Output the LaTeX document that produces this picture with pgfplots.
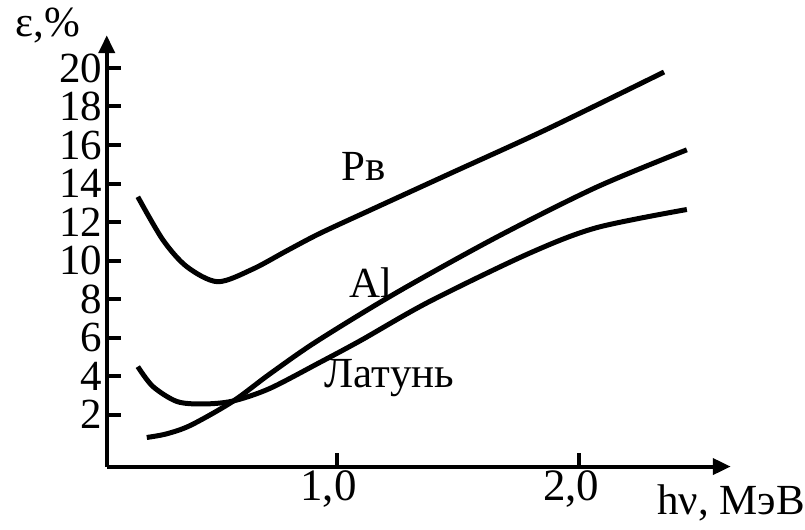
\documentclass[border=0pt]{standalone}
\usepackage{fontspec}
\setmainfont{Liberation Serif}
\usepackage{pgfplots}
\pgfplotsset{compat=1.18}
\usetikzlibrary{arrows.meta}

\begin{document}
\fontsize{21.5}{25}\selectfont
\begin{tikzpicture}
\begin{axis}[
  scale only axis,
  width=312.5pt, height=216pt,
  xmin=0.053, xmax=2.625,
  ymin=-0.7, ymax=21.7,
  axis lines*=left,
  axis line style={line width=2pt, -{Triangle[length=9pt,width=8pt]}},
  xtick={1,2}, xticklabels={{1,0},{2,0}},
  ytick={2,4,...,20},
  tick align=inside,
  major tick length=7pt,
  tick style={line width=2pt, black},
  /pgf/number format/assume math mode=true,
  xticklabel style={font=\fontsize{22.5}{26}\selectfont, inner sep=2pt, xshift=-4pt},
  yticklabel style={font=\fontsize{21.5}{24}\selectfont, inner xsep=2pt, inner ysep=0pt},
  clip=false,
]
% Pb
\addplot[line width=2.5pt, smooth] coordinates {
  (0.181,13.31) (0.284,11.08) (0.383,9.68) (0.510,8.90) (0.654,9.55)
  (0.794,10.5) (0.930,11.4) (1.136,12.6) (1.465,14.5) (1.864,16.8)
  (2.350,19.79)};
% Al
\addplot[line width=2.5pt, smooth] coordinates {
  (0.218,0.81) (0.30,1.0) (0.40,1.45) (0.572,2.68) (0.724,4.1) (0.918,5.8)
  (1.247,8.33) (1.658,11.2) (2.070,13.8) (2.444,15.75)};
% Latun
\addplot[line width=2.5pt, smooth] coordinates {
  (0.181,4.49) (0.243,3.46) (0.342,2.68) (0.449,2.55) (0.572,2.7)
  (0.724,3.35) (0.930,4.7) (1.10,5.85) (1.38,7.85) (1.79,10.35)
  (2.070,11.7) (2.444,12.65)};

\node at (axis cs:1.111,14.91) {Pв};
\node at (axis cs:1.144,8.85) {Al};
\node at (axis cs:1.218,3.92) {Латунь};
\node[anchor=base west, inner sep=0pt] at (axis cs:-0.325,21.61) {ε,\%};
\node[anchor=base west, inner sep=0pt] at (axis cs:2.321,-3.18) {hν, МэВ};
\path (axis cs:-0.387,23.53) rectangle (axis cs:2.926,-3.97);
\end{axis}
\end{tikzpicture}
\end{document}
